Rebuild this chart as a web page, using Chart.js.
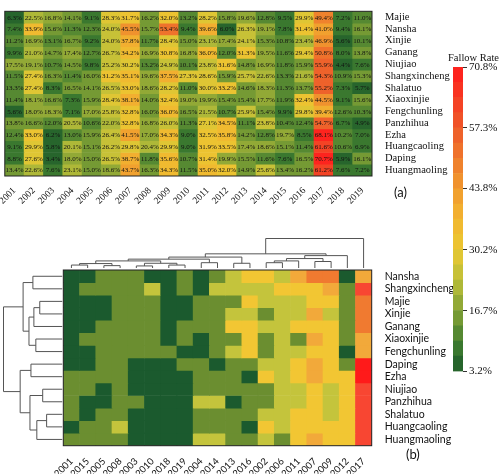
<!DOCTYPE html>
<html>
<head>
<meta charset="utf-8">
<script src="https://cdn.jsdelivr.net/npm/chart.js@4.4.1/dist/chart.umd.min.js"></script>
<style>
body { margin: 0; background: #fff; }
#wrap { position: relative; width: 500px; height: 474px; overflow: hidden; background: #fff; }
#wrap canvas { position: absolute; }
.lbl { position: absolute; white-space: nowrap; color: #111; }
</style>
</head>
<body>
<div id="wrap">
  <canvas id="topMap" width="460" height="215" style="left:0;top:0"></canvas>
  <canvas id="clusterMap" width="470" height="244" style="left:0;top:230px"></canvas>
  <canvas id="colorBar" width="60" height="323" style="left:440px;top:57px"></canvas>
  <div class="lbl" style="left:448px;top:52px;font:10.5px 'Liberation Serif'">Fallow Rate</div>
  <div class="lbl" style="left:394px;top:184px;font:13px Lato">(a)</div>
  <div class="lbl" style="left:406px;top:446px;font:13px Lato">(b)</div>
</div>
<script>
// years and villages
var years = ['2001','2002','2003','2004','2005','2006','2007','2008','2009','2010',
             '2011','2012','2013','2014','2015','2016','2017','2018','2019'];
var villages = ['Majie','Nansha','Xinjie','Ganang','Niujiao','Shangxincheng','Shalatuo',
                'Xiaoxinjie','Fengchunling','Panzhihua','Ezha','Huangcaoling','Daping','Huangmaoling'];

// fallow rate (%) per village, 2001..2019
var majie        = [6.3, 22.5, 16.8, 14.1, 9.1, 28.3, 31.7, 16.2, 32.0, 13.2, 28.2, 15.8, 19.6, 12.8, 9.5, 29.9, 49.4, 7.2, 11.0];
var nansha       = [7.4, 33.9, 15.6, 11.3, 12.3, 24.0, 45.5, 15.7, 53.4, 9.4, 39.6, 6.0, 26.3, 19.1, 7.8, 31.4, 41.0, 9.4, 16.1];
var xinjie       = [11.2, 16.9, 13.1, 16.7, 9.2, 24.0, 37.8, 11.7, 28.4, 15.0, 23.1, 17.4, 24.1, 15.3, 10.8, 23.4, 46.9, 5.6, 10.1];
var ganang       = [9.9, 21.0, 14.7, 17.4, 12.7, 26.7, 34.2, 16.9, 30.8, 16.8, 36.0, 12.0, 31.3, 19.5, 11.6, 29.4, 50.8, 8.0, 13.8];
var niujiao      = [17.5, 19.1, 10.7, 14.5, 9.8, 25.2, 30.2, 13.2, 24.9, 10.1, 23.8, 31.6, 14.8, 16.9, 11.8, 15.9, 55.9, 4.4, 7.6];
var shangxincheng= [11.5, 27.4, 16.3, 11.4, 16.0, 31.2, 35.1, 19.6, 37.5, 27.3, 28.6, 15.9, 25.7, 22.6, 13.3, 21.6, 54.3, 10.9, 15.3];
var shalatuo     = [13.3, 27.4, 8.3, 16.5, 14.1, 26.5, 33.0, 18.6, 28.2, 11.0, 30.0, 33.2, 14.6, 18.3, 11.3, 13.7, 55.2, 7.3, 5.7];
var xiaoxinjie   = [11.4, 18.1, 16.6, 7.3, 15.9, 28.4, 38.1, 14.0, 32.4, 19.0, 19.9, 15.4, 15.4, 17.7, 11.9, 32.4, 44.5, 9.1, 15.6];
var fengchunling = [5.6, 18.0, 18.3, 7.1, 17.0, 25.8, 32.8, 16.0, 36.0, 16.5, 21.5, 10.7, 25.9, 15.4, 9.9, 29.8, 39.4, 12.6, 10.3];
var panzhihua    = [13.8, 16.6, 12.0, 20.5, 10.6, 22.0, 32.8, 16.8, 26.0, 11.3, 27.1, 34.5, 11.1, 23.8, 10.4, 12.4, 54.7, 6.7, 4.9];
var ezha         = [12.4, 33.0, 6.2, 13.0, 15.9, 26.4, 41.5, 17.0, 34.3, 9.0, 32.5, 35.8, 14.2, 12.8, 19.7, 8.5, 68.1, 10.2, 7.0];
var huangcaoling = [9.1, 29.9, 5.8, 20.1, 15.1, 26.2, 29.8, 20.4, 29.9, 9.0, 31.9, 33.5, 17.4, 18.6, 15.1, 11.4, 61.6, 10.6, 6.9];
var daping       = [8.8, 27.6, 3.4, 18.0, 15.0, 26.5, 38.7, 11.8, 35.6, 10.7, 31.4, 19.9, 15.5, 11.6, 7.6, 16.5, 70.7, 5.9, 16.1];
var huangmaoling = [13.4, 22.6, 7.6, 23.1, 15.0, 18.6, 43.7, 16.3, 34.3, 11.5, 35.0, 32.0, 14.9, 25.6, 13.4, 16.2, 61.2, 7.6, 7.2];

var rates = [majie, nansha, xinjie, ganang, niujiao, shangxincheng, shalatuo,
             xiaoxinjie, fengchunling, panzhihua, ezha, huangcaoling, daping, huangmaoling];

// clustered order (panel b)
var yearOrder = ['2001','2015','2005','2008','2003','2010','2018','2019','2004','2014',
                 '2013','2016','2002','2006','2011','2007','2009','2012','2017'];
var villageOrder = ['Nansha','Shangxincheng','Majie','Xinjie','Ganang','Xiaoxinjie','Fengchunling',
                    'Daping','Ezha','Niujiao','Panzhihua','Shalatuo','Huangcaoling','Huangmaoling'];

// dendrogram merges [a, b, height], ids >= n are earlier merges
var colLinks = [[0,1,0.5],[2,3,0.4],[19,20,0.75],[4,5,0.35],[6,7,0.5],[22,23,0.8],[21,24,1.2],
                [8,9,0.9],[25,26,1.5],[10,11,0.8],[27,28,1.85],[12,13,0.9],[30,14,1.2],
                [15,16,1.1],[31,32,1.6],[33,17,2.1],[29,34,2.4],[35,18,5.0]];
var rowLinks = [[2,3,2.3],[14,4,2.9],[5,6,2.7],[15,16,3.4],[0,1,3.0],[18,17,4.0],[7,8,3.2],
                [9,10,2.0],[11,12,1.6],[22,13,2.6],[21,23,3.3],[20,24,4.3],[19,25,6.0]];

// colorbar
var rateMin = 3.2, rateMax = 70.8;
var barTicks = [3.2, 16.7, 30.2, 43.8, 57.3, 70.8];
var nBands = 20;

var stops = [[3.2,'#1e5b2b'],[9,'#3e7c30'],[16.7,'#84a235'],[23.5,'#bcbf39'],[30.2,'#eac832'],
             [37,'#f2b630'],[43.8,'#f09a2e'],[57.3,'#ee5a2a'],[70.8,'#ff1c1c']];

function rgb(h) {
  return [parseInt(h.slice(1,3),16), parseInt(h.slice(3,5),16), parseInt(h.slice(5,7),16)];
}

function rampColor(v) {
  if (v <= stops[0][0]) return stops[0][1];
  for (var i = 1; i < stops.length; i++) {
    if (v <= stops[i][0]) {
      var t = (v - stops[i-1][0]) / (stops[i][0] - stops[i-1][0]);
      var a = rgb(stops[i-1][1]), b = rgb(stops[i][1]);
      return 'rgb(' + [0,1,2].map(function(k){ return Math.round(a[k] + (b[k]-a[k])*t); }).join(',') + ')';
    }
  }
  return stops[stops.length-1][1];
}

var bandStep = (rateMax - rateMin) / nBands;
function bandColor(v) {
  var k = Math.max(0, Math.min(nBands - 1, Math.floor((v - rateMin) / bandStep)));
  return rampColor(rateMin + (k + 0.5) * bandStep);
}

// coarser classes used in the clustered map
var binEdges = [11.7, 20.3, 28.5, 37, 45, 54, 63];
var binColors = ['#1b5a2e','#6b8e30','#c4c43c','#f2c633','#f2a93a','#f07a30','#f84632','#ff1a1a'];
function binColor(v) {
  var k = 0;
  while (k < binEdges.length && v >= binEdges[k]) k++;
  return binColors[k];
}

var framePlugin = {
  id: 'frame',
  afterDraw: function(chart) {
    var a = chart.chartArea, ctx = chart.ctx;
    ctx.save();
    ctx.strokeStyle = '#222';
    ctx.lineWidth = 1;
    ctx.strokeRect(a.left, a.top, a.right - a.left, a.bottom - a.top);
    ctx.restore();
  }
};

var cellTextPlugin = {
  id: 'cellText',
  afterDatasetsDraw: function(chart) {
    var ctx = chart.ctx;
    ctx.save();
    ctx.font = '7px "Liberation Serif"';
    ctx.fillStyle = '#111';
    ctx.textAlign = 'center';
    ctx.textBaseline = 'middle';
    chart.data.datasets.forEach(function(ds, i) {
      chart.getDatasetMeta(i).data.forEach(function(el, j) {
        ctx.fillText(ds.values[j].toFixed(1) + '%', el.x, (el.y + el.base) / 2 + 0.5);
      });
    });
    ctx.restore();
  }
};

function drawTree(ctx, links, leafPos, toPix) {
  var pos = leafPos.slice(), hgt = leafPos.map(function(){ return 0; });
  ctx.beginPath();
  links.forEach(function(l) {
    var a = l[0], b = l[1], h = l[2];
    var p1 = toPix(pos[a], hgt[a]), p2 = toPix(pos[a], h);
    var p3 = toPix(pos[b], h), p4 = toPix(pos[b], hgt[b]);
    ctx.moveTo(p1[0], p1[1]);
    ctx.lineTo(p2[0], p2[1]);
    ctx.lineTo(p3[0], p3[1]);
    ctx.lineTo(p4[0], p4[1]);
    pos.push((pos[a] + pos[b]) / 2);
    hgt.push(h);
  });
  ctx.stroke();
}

var dendroPlugin = {
  id: 'dendro',
  afterDraw: function(chart) {
    var a = chart.chartArea, ctx = chart.ctx;
    var xs = chart.scales.x, ys = chart.scales.y;
    ctx.save();
    ctx.strokeStyle = '#555';
    ctx.lineWidth = 1;
    // column tree above the map
    var colPos = yearOrder.map(function(_, i){ return xs.getPixelForValue(i); });
    drawTree(ctx, colLinks, colPos, function(p, h){ return [p, a.top - 2 - h * 5.9]; });
    // row tree left of the map
    var rowPos = villageOrder.map(function(_, i){ return ys.getPixelForValue(i + 0.5); });
    drawTree(ctx, rowLinks, rowPos, function(p, h){ return [a.left - 1 - h * 9.8, p]; });
    ctx.restore();
  }
};

function makeHeatmap(id, xLabels, yLabels, matrix, colorFn, o) {
  var datasets = yLabels.map(function(name, r) {
    return {
      label: name,
      data: xLabels.map(function(){ return 1; }),
      values: matrix[r],
      backgroundColor: matrix[r].map(colorFn),
      borderWidth: 0,
      barPercentage: 1,
      categoryPercentage: 1
    };
  });
  return new Chart(document.getElementById(id), {
    type: 'bar',
    data: { labels: xLabels, datasets: datasets },
    options: {
      responsive: false,
      animation: false,
      layout: { padding: o.padding },
      plugins: { legend: { display: false }, tooltip: { enabled: false } },
      scales: {
        x: {
          stacked: true,
          grid: { display: false },
          border: { display: false },
          ticks: { autoSkip: false, minRotation: 45, maxRotation: 45, padding: o.xPad,
                   color: '#111', font: o.xFont },
          afterFit: function(s){ s.height = o.bottomH; }
        },
        y: {
          stacked: true,
          min: 0,
          max: yLabels.length,
          reverse: true,
          position: 'right',
          grid: { display: false },
          border: { display: false },
          afterBuildTicks: function(s) {
            s.ticks = yLabels.map(function(_, i){ return { value: i + 0.5 }; });
          },
          ticks: { autoSkip: false, padding: 5, color: '#111', font: o.yFont,
                   callback: function(v, i){ return yLabels[i]; } },
          afterFit: function(s){ s.width = o.rightW; }
        }
      }
    },
    plugins: o.plugins
  });
}

// panel (a)
makeHeatmap('topMap', years, villages, rates, bandColor, {
  padding: { left: 0.5, top: 0.5, right: 0, bottom: 0 },
  bottomH: 39, rightW: 88, xPad: 1,
  xFont: { family: 'Liberation Serif', size: 9.5 },
  yFont: { family: 'Liberation Serif', size: 10.5 },
  plugins: [cellTextPlugin, framePlugin]
});

// panel (b), rows and columns reordered
var clustered = villageOrder.map(function(v) {
  var row = rates[villages.indexOf(v)];
  return yearOrder.map(function(y){ return row[years.indexOf(y)]; });
});
makeHeatmap('clusterMap', yearOrder, villageOrder, clustered, binColor, {
  padding: { left: 63.3, top: 40, right: 0, bottom: 0 },
  bottomH: 28.3, rightW: 98.3, xPad: 2,
  xFont: { family: 'Lato', size: 9.5 },
  yFont: { family: 'Lato', size: 10.5 },
  plugins: [framePlugin, dendroPlugin]
});

// colorbar as stacked floating bands
var bandSets = [];
for (var k = 0; k < nBands; k++) {
  var lo = rateMin + k * bandStep;
  bandSets.push({
    data: [[lo, lo + bandStep]],
    backgroundColor: rampColor(lo + bandStep / 2),
    stack: 'bar',
    borderWidth: 0,
    barPercentage: 1,
    categoryPercentage: 1
  });
}
new Chart(document.getElementById('colorBar'), {
  type: 'bar',
  data: { labels: ['rate'], datasets: bandSets },
  options: {
    responsive: false,
    animation: false,
    layout: { padding: { left: 13, top: 10, bottom: 7, right: 0 } },
    plugins: { legend: { display: false }, tooltip: { enabled: false } },
    scales: {
      x: { display: false, stacked: true },
      y: {
        stacked: false,
        min: rateMin,
        max: rateMax,
        position: 'right',
        grid: { display: true, drawOnChartArea: false, tickLength: 4, color: '#333' },
        border: { display: false },
        afterBuildTicks: function(s) {
          s.ticks = barTicks.map(function(v){ return { value: v }; });
        },
        ticks: { padding: 2, color: '#111', font: { family: 'Liberation Serif', size: 11 },
                 callback: function(v){ return v.toFixed(1) + '%'; } },
        afterFit: function(s){ s.width = 37; }
      }
    }
  }
});
</script>
</body>
</html>
